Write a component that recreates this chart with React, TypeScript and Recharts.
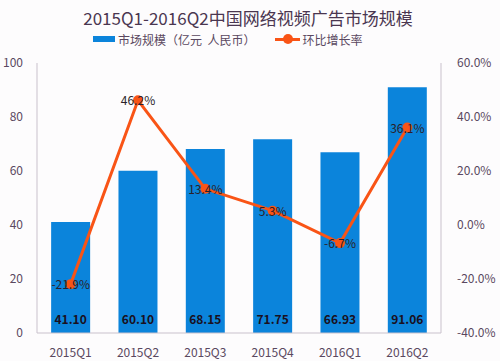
import React from 'react';
import { ComposedChart, Bar, Line, XAxis, YAxis, LabelList } from 'recharts';

const categories = ['2015Q1', '2015Q2', '2015Q3', '2015Q4', '2016Q1', '2016Q2'];
const marketSize = [41.1, 60.1, 68.15, 71.75, 66.93, 91.06];
const growthRate = [-21.9, 46.2, 13.4, 5.3, -6.7, 36.1];
const leftTicks = [0, 20, 40, 60, 80, 100];
const rightTicks = [-40, -20, 0, 20, 40, 60];

const data = categories.map((c, i) => ({ name: c, size: marketSize[i], rate: growthRate[i] }));

const BAR = '#0b84db';
const LINE = '#f95416';
const TEXT = '#5a4860';
const AXIS = '#c9c1cc';
const FONT = '"Microsoft YaHei", "Noto Sans CJK SC", "Noto Sans", sans-serif';

const LineLabel = (props: any) => {
  const { x, y, value } = props;
  return (
    <text x={x} y={y} dy={5} textAnchor="middle" fontSize={12} fill="#2a1f2a" fontFamily={FONT}>
      {value.toFixed(1)}%
    </text>
  );
};

export default function App() {
  return (
    <div style={{ position: 'absolute', left: 0, top: 0, width: 500, height: 361, background: '#fdfcfd', fontFamily: FONT }}>
      <div style={{ position: 'absolute', left: 0, top: 5, width: 496, textAlign: 'center', fontSize: 17, color: '#4a3650', whiteSpace: 'nowrap' }}>
        2015Q1-2016Q2中国网络视频广告市场规模
      </div>
      <div style={{ position: 'absolute', left: 93, top: 30, height: 18, display: 'flex', alignItems: 'center', fontSize: 12, color: TEXT, whiteSpace: 'nowrap' }}>
        <span style={{ display: 'inline-block', width: 22, height: 6, background: BAR, marginRight: 3 }} />
        <span>市场规模（亿元&nbsp;&nbsp;人民币）</span>
        <span style={{ display: 'inline-block', position: 'relative', width: 25, height: 10, marginLeft: 20, marginRight: 2 }}>
          <span style={{ position: 'absolute', left: 0, top: 4, width: 25, height: 3, background: LINE }} />
          <span style={{ position: 'absolute', left: 8, top: 0, width: 10, height: 10, borderRadius: 5, background: LINE }} />
        </span>
        <span>环比增长率</span>
      </div>
      <div style={{ position: 'absolute', left: 0, top: 0 }}>
        <ComposedChart width={500} height={361} data={data} margin={{ top: 63, right: 0, bottom: 0, left: 0 }} barCategoryGap="21%">
          <XAxis
            dataKey="name"
            height={28}
            tick={{ fill: TEXT, fontSize: 12, fontFamily: FONT }}
            tickLine={false}
            tickMargin={9}
            axisLine={{ stroke: AXIS }}
            interval={0}
          />
          <YAxis
            yAxisId="left"
            width={37}
            domain={[0, 100]}
            ticks={leftTicks}
            tick={{ fill: TEXT, fontSize: 12, fontFamily: FONT }}
            tickLine={false}
            tickMargin={8}
            axisLine={{ stroke: AXIS }}
            interval={0}
          />
          <YAxis
            yAxisId="right"
            orientation="right"
            width={59}
            domain={[-40, 60]}
            ticks={rightTicks}
            tickFormatter={(v: number) => `${v.toFixed(1)}%`}
            tick={{ fill: TEXT, fontSize: 12, fontFamily: FONT }}
            tickLine={false}
            tickMargin={10}
            axisLine={{ stroke: AXIS }}
            interval={0}
          />
          <Bar yAxisId="left" dataKey="size" fill={BAR} isAnimationActive={false}>
            <LabelList
              dataKey="size"
              position="insideBottom"
              offset={9}
              formatter={(v: any) => Number(v).toFixed(2)}
              style={{ fill: '#1a1020', fontSize: 12, fontWeight: 'bold', fontFamily: FONT }}
            />
          </Bar>
          <Line
            yAxisId="right"
            dataKey="rate"
            stroke={LINE}
            strokeWidth={3}
            dot={{ r: 5, fill: LINE, stroke: LINE, strokeWidth: 0 }}
            isAnimationActive={false}
          >
            <LabelList dataKey="rate" content={LineLabel} />
          </Line>
        </ComposedChart>
      </div>
    </div>
  );
}
